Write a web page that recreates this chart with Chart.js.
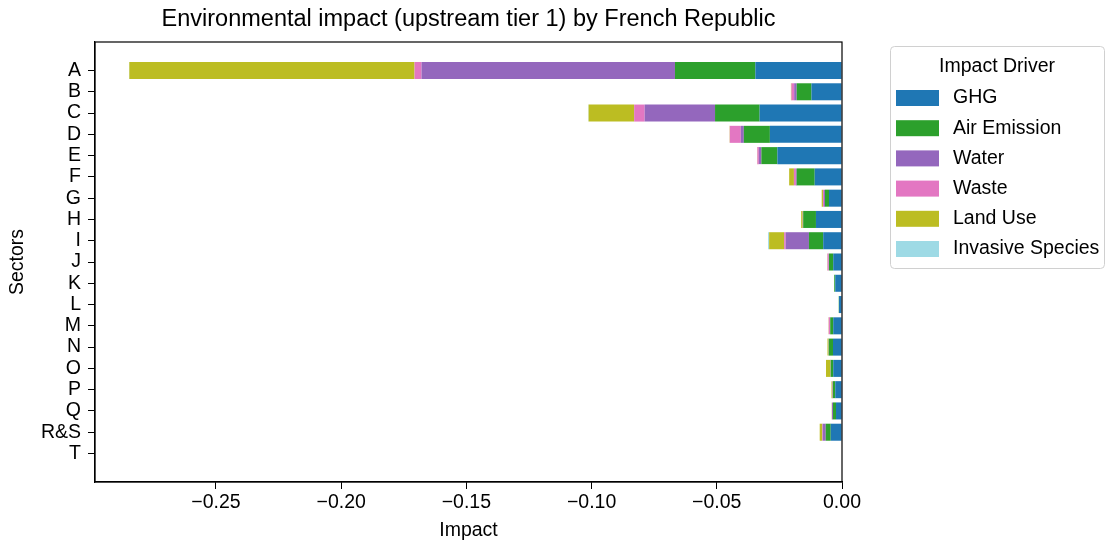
<!DOCTYPE html>
<html>
<head>
<meta charset="utf-8">
<script src="https://cdn.jsdelivr.net/npm/chart.js@4.4.1/dist/chart.umd.min.js"></script>
<style>
  html, body { margin: 0; padding: 0; background: #fff; }
  #wrap { width: 1107px; height: 546px; position: relative; }
</style>
</head>
<body>
<div id="wrap"><canvas id="impactChart"></canvas></div>
<script>
// Sectors (top to bottom) and impact per driver
const sectors = ['A', 'B', 'C', 'D', 'E', 'F', 'G', 'H', 'I', 'J', 'K', 'L', 'M', 'N', 'O', 'P', 'Q', 'R&S', 'T'];
const drivers = ['GHG', 'Air Emission', 'Water', 'Waste', 'Land Use', 'Invasive Species'];
const driverColors = ['#1f77b4', '#2ca02c', '#9467bd', '#e377c2', '#bcbd22', '#9edae5'];

const ghg       = [-0.0346, -0.0122, -0.0329, -0.0288, -0.0258, -0.0109, -0.0052, -0.0104, -0.0075, -0.0035, -0.0027, -0.0012, -0.0035, -0.0036, -0.0035, -0.0027, -0.0024, -0.0045, 0];
const airEm     = [-0.0321, -0.0059, -0.0178, -0.0104, -0.0064, -0.0072, -0.0016, -0.0051, -0.0057, -0.0017, -0.0004, -0.0001, -0.0012, -0.0017, -0.0010, -0.0009, -0.0012, -0.0020, 0];
const water     = [-0.1012, -0.0010, -0.0281, -0.0012, -0.0010, -0.0003, -0.0004, -0.0001, -0.0093, -0.0001, 0, 0, -0.0001, 0, -0.0001, -0.0002, -0.0004, -0.0012, 0];
const waste     = [-0.0028, -0.0011, -0.0042, -0.0044, -0.0006, -0.0008, -0.0004, -0.0001, -0.0006, -0.0005, 0, 0, -0.0005, -0.0001, 0, 0, 0, -0.0002, 0];
const landUse   = [-0.1139, -0.0002, -0.0182, -0.0001, -0.0001, -0.0019, -0.0005, -0.0006, -0.0060, -0.0001, 0, 0, -0.0001, -0.0004, -0.0018, -0.0004, -0.0001, -0.0010, 0];
const invasive  = [-0.0001, 0, -0.0001, 0, 0, 0, 0, 0, -0.0004, 0, 0, 0, 0, 0, 0, 0, 0, 0, 0];
const series = [ghg, airEm, water, waste, landUse, invasive];

const xTicks = [-0.25, -0.20, -0.15, -0.10, -0.05, 0];

const FONT = '"Liberation Sans", Arial, sans-serif';

// matplotlib-style frame, title and boxed legend
const decorations = {
    id: 'decorations',
    afterDraw(chart) {
        const ctx = chart.ctx;
        const a = chart.chartArea;
        ctx.save();
        ctx.strokeStyle = '#000';
        ctx.lineWidth = 1.2;
        ctx.strokeRect(a.left, a.top, a.right - a.left, a.bottom - a.top);

        ctx.fillStyle = '#000';
        ctx.font = '23.5px ' + FONT;
        ctx.textAlign = 'center';
        ctx.textBaseline = 'middle';
        ctx.fillText('Environmental impact (upstream tier 1) by French Republic', (a.left + a.right) / 2, 20);

        // legend
        const lx = 890, ly = 46, lw = 214, lh = 222;
        ctx.strokeStyle = '#d0d0d0';
        ctx.lineWidth = 1;
        ctx.beginPath();
        ctx.roundRect(lx + 0.5, ly + 0.5, lw, lh, 4);
        ctx.fillStyle = 'rgba(255,255,255,0.8)';
        ctx.fill();
        ctx.stroke();
        ctx.fillStyle = '#000';
        ctx.font = '19.5px ' + FONT;
        ctx.fillText('Impact Driver', lx + lw / 2, 67);
        ctx.textAlign = 'left';
        drivers.forEach((d, i) => {
            const cy = 98 + i * 30.2;
            ctx.fillStyle = driverColors[i];
            ctx.fillRect(896, cy - 8, 43, 16);
            ctx.fillStyle = '#000';
            ctx.fillText(d, 953, cy);
        });
        ctx.restore();
    }
};

const ctx = document.getElementById('impactChart').getContext('2d');
new Chart(ctx, {
    type: 'bar',
    data: {
        datasets: drivers.map((d, k) => ({
            label: d,
            data: series[k].map((v, i) => ({ x: v, y: i })),
            backgroundColor: driverColors[k],
            borderWidth: 0,
            categoryPercentage: 1.0,
            barPercentage: 0.8
        }))
    },
    options: {
        indexAxis: 'y',
        responsive: true,
        maintainAspectRatio: false,
        animation: false,
        layout: { padding: { top: 42, right: 265, left: 0, bottom: 0 } },
        plugins: {
            legend: { display: false },
            title: { display: false },
            tooltip: { enabled: false }
        },
        scales: {
            x: {
                type: 'linear',
                stacked: true,
                min: -0.2983,
                max: 0,
                afterBuildTicks: (scale) => { scale.ticks = xTicks.map(v => ({ value: v })); },
                afterFit: (scale) => { scale.height = 64; },
                grid: { display: true, drawOnChartArea: false, drawTicks: true, tickLength: 7, color: '#000' },
                border: { display: true, color: '#000', width: 1.2 },
                ticks: {
                    color: '#000',
                    font: { family: FONT, size: 19.5 },
                    padding: 2,
                    maxRotation: 0,
                    callback: (v) => v.toFixed(2).replace('-', '\u2212')
                },
                title: { display: true, text: 'Impact', color: '#000', font: { family: FONT, size: 19.5 }, padding: { top: 0 } }
            },
            y: {
                type: 'linear',
                stacked: true,
                reverse: true,
                offset: false,
                min: -1.34,
                max: 19.34,
                afterBuildTicks: (scale) => { scale.ticks = sectors.map((s, i) => ({ value: i })); },
                afterFit: (scale) => { scale.width = 95; },
                grid: { display: true, offset: false, drawOnChartArea: false, drawTicks: true, tickLength: 7, color: '#000' },
                border: { display: true, color: '#000', width: 1.2 },
                ticks: {
                    color: '#000',
                    font: { family: FONT, size: 19.5 },
                    padding: 7,
                    autoSkip: false,
                    callback: (v) => sectors[v]
                },
                title: { display: true, text: 'Sectors', color: '#000', font: { family: FONT, size: 19.5 }, padding: { top: 6, bottom: 2 } }
            }
        }
    },
    plugins: [decorations]
});
</script>
</body>
</html>
